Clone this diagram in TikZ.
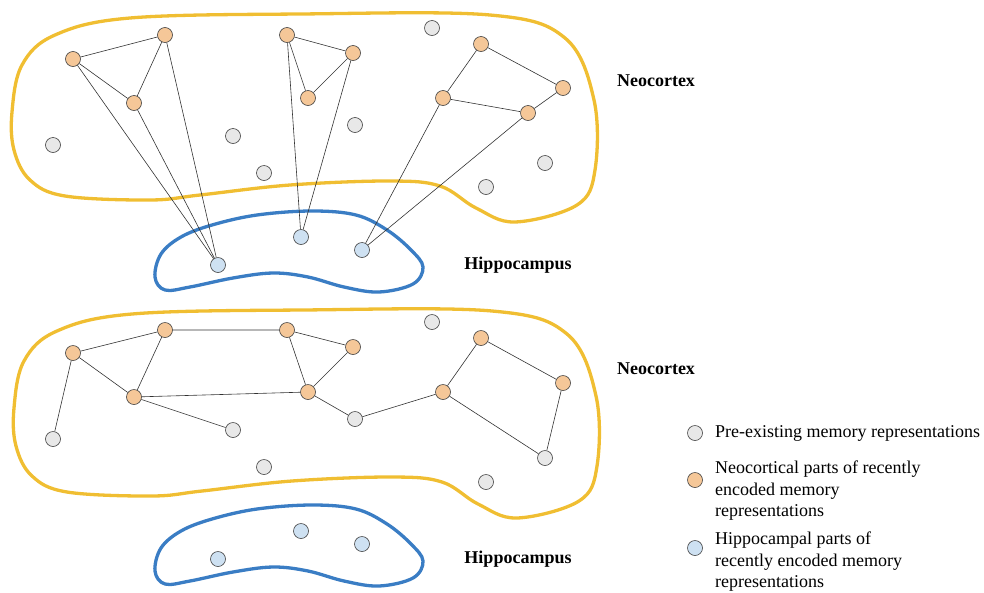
\documentclass[tikz,border=0pt]{standalone}
\usepackage{fontspec}
\setmainfont{Liberation Serif}
\definecolor{cortexY}{RGB}{240,190,50}
\definecolor{hippoB}{RGB}{58,125,196}
\definecolor{orangeF}{RGB}{245,199,152}
\definecolor{grayF}{RGB}{232,232,232}
\definecolor{blueF}{RGB}{206,225,242}
\definecolor{edgeC}{RGB}{50,50,50}
\newcommand\cortexoutline{plot[smooth cycle, tension=0.6] coordinates {(12,112) (22,65) (55,35) (130,18) (300,14) (490,15) (565,38) (594,100) (595,170) (577,205) (515,222) (476,208) (440,186) (390,181) (290,185) (200,195) (150,200) (65,196) (30,180) (14,150)}}
\newcommand\hippooutline{plot[smooth cycle, tension=0.6] coordinates {(155,277) (161,254) (181,237) (212,225) (257,215) (312,211) (356,215) (387,230) (411,250) (423,267) (413,284) (379,292) (344,287) (308,277) (273,273) (233,278) (190,287) (165,290)}}
\begin{document}
\begin{tikzpicture}[x=1pt,y=-1pt,
  mem/.style={circle, draw=black!75, line width=0.6pt, minimum size=15pt, inner sep=0pt},
  orn/.style={mem, fill=orangeF},
  gry/.style={mem, fill=grayF},
  blu/.style={mem, fill=blueF},
  link/.style={draw=edgeC, line width=0.6pt},
  cortex/.style={draw=cortexY, line width=3.3pt},
  hippo/.style={draw=hippoB, line width=3.3pt},
  region/.style={font=\bfseries\fontsize{18}{22}\selectfont},
  legtext/.style={anchor=west, align=left, inner sep=0pt, font=\fontsize{18}{21.5}\selectfont}]
\useasboundingbox (0,0) rectangle (984,592);
% ---------- top panel ----------
\draw[cortex] \cortexoutline;
\draw[hippo] \hippooutline;
\node[orn] (a1) at (73,59) {};
\node[orn] (a2) at (165,35) {};
\node[orn] (a3) at (134,103) {};
\node[orn] (b1) at (287,35) {};
\node[orn] (b2) at (353,53) {};
\node[orn] (b3) at (308,98) {};
\node[orn] (c1) at (481,44) {};
\node[orn] (c2) at (563,88) {};
\node[orn] (c3) at (443,98) {};
\node[orn] (c4) at (528,113) {};
\node[gry] (p1) at (432,28) {};
\node[gry] (p2) at (53,145) {};
\node[gry] (p3) at (233,136) {};
\node[gry] (p4) at (355,125) {};
\node[gry] (p5) at (264,173) {};
\node[gry] (p6) at (545,163) {};
\node[gry] (p7) at (486,187) {};
\node[blu] (h1) at (218,265) {};
\node[blu] (h2) at (301,237) {};
\node[blu] (h3) at (362,250) {};
\draw[link] (a1) -- (a2) (a1) -- (a3) (a2) -- (a3) (a1) -- (h1) (a3) -- (h1) (a2) -- (h1);
\draw[link] (b1) -- (b2) (b1) -- (b3) (b2) -- (b3) (b1) -- (h2) (b2) -- (h2);
\draw[link] (c1) -- (c3) (c1) -- (c2) (c3) -- (c4) (c2) -- (c4) (c3) -- (h3) (c4) -- (h3);
\node[region] (neo1) at (656,81) {Neocortex};
\node[region] (hip1) at (518,265) {Hippocampus};
% ---------- bottom panel ----------
\begin{scope}[shift={(2,296)}]
\draw[cortex] \cortexoutline;
\end{scope}
\begin{scope}[shift={(0,294)}]
\draw[hippo] \hippooutline;
\end{scope}
\node[orn] (d1) at (73,353) {};
\node[orn] (d2) at (165,330) {};
\node[orn] (d3) at (134,397) {};
\node[orn] (e1) at (287,330) {};
\node[orn] (e2) at (353,347) {};
\node[orn] (e3) at (308,392) {};
\node[orn] (f1) at (481,338) {};
\node[orn] (f2) at (563,383) {};
\node[orn] (f3) at (443,392) {};
\node[gry] (g1) at (432,322) {};
\node[gry] (g2) at (53,439) {};
\node[gry] (g3) at (233,430) {};
\node[gry] (g4) at (355,419) {};
\node[gry] (g5) at (264,467) {};
\node[gry] (g6) at (545,458) {};
\node[gry] (g7) at (486,482) {};
\node[blu] (k1) at (218,559) {};
\node[blu] (k2) at (301,531) {};
\node[blu] (k3) at (362,544) {};
\draw[link] (d1) -- (d2) (d1) -- (d3) (d2) -- (d3) (d2) -- (e1) (d3) -- (e3) (d3) -- (g3) (d1) -- (g2);
\draw[link] (e1) -- (e2) (e1) -- (e3) (e2) -- (e3) (e3) -- (g4) (g4) -- (f3);
\draw[link] (f1) -- (f3) (f1) -- (f2) (f3) -- (g6) (f2) -- (g6);
\node[region] (neo2) at (656,369) {Neocortex};
\node[region] (hip2) at (518,559) {Hippocampus};
% ---------- legend ----------
\node[gry] (l1) at (695,433) {};
\node[orn] (l2) at (695,480) {};
\node[blu] (l3) at (695,548) {};
\node[legtext] (t1) at (715,433) {Pre-existing memory representations};
\node[legtext] (t2) at (715,491) {Neocortical parts of recently\\encoded memory\\representations};
\node[legtext] (t3) at (715,562) {Hippocampal parts of\\recently encoded memory\\representations};
\end{tikzpicture}
\end{document}
